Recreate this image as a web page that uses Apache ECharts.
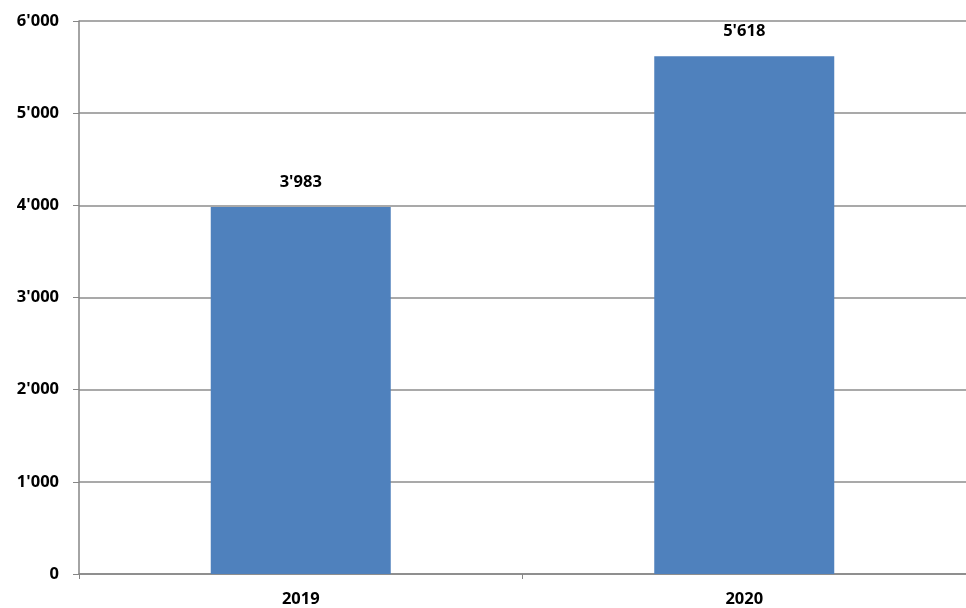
<!DOCTYPE html>
<html><head><meta charset="utf-8">
<script src="https://cdn.jsdelivr.net/npm/echarts@6/dist/echarts.min.js"></script>
<style>html,body{margin:0;padding:0;background:#fff}#c{width:966px;height:608px}</style>
</head><body><div id="c"></div>
<script>
var categories = ['2019', '2020'];
var values = [3983, 5618];
var yTicks = [0, 1000, 2000, 3000, 4000, 5000, 6000];

function fmt(v) { return String(v).replace(/\B(?=(\d{3})+(?!\d))/g, "'"); }

var chart = echarts.init(document.getElementById('c'));
chart.setOption({
  animation: false,
  grid: { left: 79, right: 0, top: 21, bottom: 33 },
  xAxis: {
    type: 'category', data: categories,
    axisLine: { lineStyle: { color: '#868686', width: 1.5 } },
    axisTick: { show: true, length: 5, lineStyle: { color: '#868686' } },
    axisLabel: { color: '#000', fontFamily: 'Open Sans', fontWeight: 'bold', fontSize: 16.5, margin: 17 }
  },
  yAxis: {
    type: 'value', min: yTicks[0], max: yTicks[yTicks.length - 1], interval: 1000,
    axisLine: { show: true, lineStyle: { color: '#868686', width: 1.5 } },
    axisTick: { show: true, length: 6, lineStyle: { color: '#868686' } },
    splitLine: { lineStyle: { color: '#8c8c8c', width: 1.5 } },
    axisLabel: { color: '#000', fontFamily: 'Open Sans', fontWeight: 'bold', fontSize: 16.5, margin: 20, formatter: fmt }
  },
  series: [{
    type: 'bar', data: values, barWidth: 180,
    itemStyle: { color: '#4F81BD' },
    label: { show: true, position: 'top', distance: 16, color: '#000', fontFamily: 'Open Sans', fontWeight: 'bold', fontSize: 16.5, formatter: function (p) { return fmt(p.value); } }
  }]
});
</script></body></html>
